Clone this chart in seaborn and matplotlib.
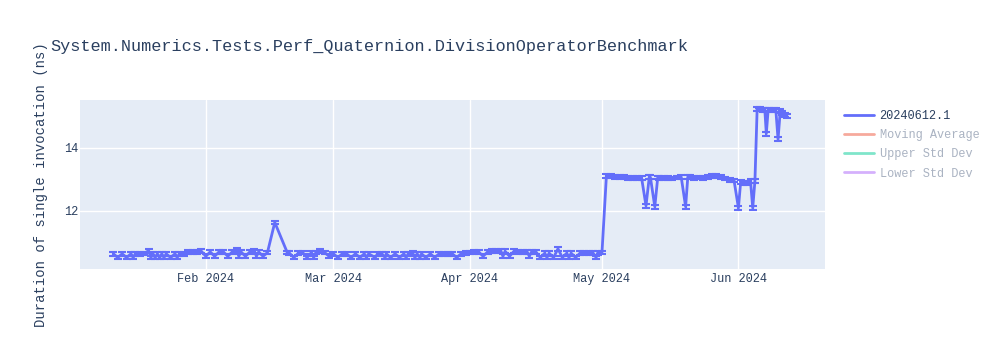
import matplotlib
matplotlib.use("Agg")
import matplotlib.pyplot as plt
from matplotlib.lines import Line2D
import seaborn as sns
import pandas as pd

title = "System.Numerics.Tests.Perf_Quaternion.DivisionOperatorBenchmark"
y_label = "Duration of single invocation (ns)"
series_name = "20240612.1"
hidden_series = ["Moving Average", "Upper Std Dev", "Lower Std Dev"]

dates = [
    "2024-01-11", "2024-01-12", "2024-01-13", "2024-01-14", "2024-01-15", "2024-01-15 12:00",
    "2024-01-16", "2024-01-17", "2024-01-18", "2024-01-19", "2024-01-19 12:00", "2024-01-20",
    "2024-01-20 12:00", "2024-01-21", "2024-01-21 12:00", "2024-01-22", "2024-01-22 12:00",
    "2024-01-23", "2024-01-24", "2024-01-25", "2024-01-25 12:00", "2024-01-26", "2024-01-27",
    "2024-01-28", "2024-01-29", "2024-01-30", "2024-01-31",
    "2024-02-01", "2024-02-02", "2024-02-03", "2024-02-04", "2024-02-05", "2024-02-06",
    "2024-02-07", "2024-02-08", "2024-02-08 12:00", "2024-02-09", "2024-02-10", "2024-02-11",
    "2024-02-12", "2024-02-12 12:00", "2024-02-13", "2024-02-14", "2024-02-15",
    "2024-02-16 16:00", "2024-02-19 12:00", "2024-02-20", "2024-02-21", "2024-02-22",
    "2024-02-23", "2024-02-24", "2024-02-25", "2024-02-25 12:00", "2024-02-26", "2024-02-27",
    "2024-02-28", "2024-02-29",
    "2024-03-01", "2024-03-02", "2024-03-03", "2024-03-04", "2024-03-05", "2024-03-06",
    "2024-03-07", "2024-03-08", "2024-03-08 12:00", "2024-03-09", "2024-03-10 12:00",
    "2024-03-11", "2024-03-12", "2024-03-12 18:00", "2024-03-13", "2024-03-14", "2024-03-15",
    "2024-03-16", "2024-03-17", "2024-03-17 12:00", "2024-03-18", "2024-03-19",
    "2024-03-19 12:00", "2024-03-20", "2024-03-20 16:00", "2024-03-21", "2024-03-22",
    "2024-03-23", "2024-03-24", "2024-03-25", "2024-03-26", "2024-03-27", "2024-03-28",
    "2024-03-29", "2024-03-30", "2024-03-31",
    "2024-04-01", "2024-04-02", "2024-04-03", "2024-04-04", "2024-04-05", "2024-04-06",
    "2024-04-07", "2024-04-08", "2024-04-08 12:00", "2024-04-09", "2024-04-10", "2024-04-11",
    "2024-04-12", "2024-04-13", "2024-04-14", "2024-04-14 12:00", "2024-04-15", "2024-04-16",
    "2024-04-17", "2024-04-18", "2024-04-18 12:00", "2024-04-19", "2024-04-20", "2024-04-21",
    "2024-04-22", "2024-04-23", "2024-04-23 12:00", "2024-04-24", "2024-04-25", "2024-04-26",
    "2024-04-27", "2024-04-28", "2024-04-29", "2024-04-29 16:00", "2024-04-30", "2024-05-01",
    "2024-05-02", "2024-05-03", "2024-05-04", "2024-05-05", "2024-05-06", "2024-05-07",
    "2024-05-08", "2024-05-09", "2024-05-10", "2024-05-11", "2024-05-11 18:00", "2024-05-12",
    "2024-05-13", "2024-05-13 16:00", "2024-05-14", "2024-05-15", "2024-05-16", "2024-05-17",
    "2024-05-18", "2024-05-19", "2024-05-20", "2024-05-20 12:00", "2024-05-21", "2024-05-22",
    "2024-05-23", "2024-05-24", "2024-05-25", "2024-05-26", "2024-05-27", "2024-05-28",
    "2024-05-29", "2024-05-30", "2024-05-31",
    "2024-06-01", "2024-06-01 12:00", "2024-06-02", "2024-06-03", "2024-06-03 18:00",
    "2024-06-04 06:00", "2024-06-04 18:00", "2024-06-05 06:00", "2024-06-05 18:00",
    "2024-06-06", "2024-06-06 12:00", "2024-06-07", "2024-06-07 08:00", "2024-06-07 18:00",
    "2024-06-08", "2024-06-09", "2024-06-09 12:00", "2024-06-10", "2024-06-10 12:00",
    "2024-06-11", "2024-06-11 12:00", "2024-06-12",
]

values = [
    10.62, 10.50, 10.62, 10.50, 10.62, 10.50,
    10.62, 10.62, 10.63, 10.72, 10.50, 10.62,
    10.50, 10.62, 10.50, 10.62, 10.50,
    10.62, 10.50, 10.62, 10.50, 10.62, 10.62,
    10.68, 10.68, 10.68, 10.70,
    10.54, 10.68, 10.54, 10.68, 10.68, 10.54,
    10.68, 10.74, 10.54, 10.68, 10.54, 10.68,
    10.72, 10.54, 10.68, 10.54, 10.66,
    11.62, 10.66, 10.64, 10.50, 10.64,
    10.66, 10.50, 10.66, 10.50, 10.66, 10.70,
    10.66, 10.54,
    10.62, 10.50, 10.62, 10.62, 10.50, 10.62,
    10.50, 10.62, 10.50, 10.62, 10.50,
    10.62, 10.62, 10.50, 10.62, 10.50, 10.62,
    10.50, 10.62, 10.50, 10.62, 10.64,
    10.50, 10.62, 10.50, 10.62, 10.50,
    10.62, 10.50, 10.62, 10.62, 10.62, 10.62,
    10.50, 10.62, 10.64,
    10.66, 10.68, 10.68, 10.54, 10.68, 10.70,
    10.70, 10.72, 10.54, 10.70, 10.54, 10.70,
    10.68, 10.68, 10.68, 10.54, 10.68, 10.68,
    10.50, 10.64, 10.50, 10.64, 10.50, 10.78,
    10.50, 10.64, 10.50, 10.64, 10.50, 10.64,
    10.64, 10.64, 10.64, 10.50, 10.64, 10.66,
    13.09, 13.09, 13.08, 13.08, 13.08, 13.03,
    13.03, 13.03, 13.04, 12.15, 13.07, 13.06,
    12.12, 13.05, 13.03, 13.03, 13.04, 13.02,
    13.05, 13.07, 12.12, 13.07, 13.06, 13.03,
    13.05, 13.03, 13.07, 13.09, 13.09, 13.07,
    13.02, 12.98, 12.96,
    12.08, 12.90, 12.88, 12.88, 12.93,
    12.08, 12.95, 15.23, 15.22,
    15.23, 15.21, 15.20, 14.45, 15.20,
    15.22, 15.21, 15.20, 14.27, 15.18,
    15.12, 15.05, 15.02,
]

err_ns = 0.06

month_ticks = ["2024-02-01", "2024-03-01", "2024-04-01", "2024-05-01", "2024-06-01"]
month_labels = ["Feb 2024", "Mar 2024", "Apr 2024", "May 2024", "Jun 2024"]
y_ticks = [12, 14]

df = pd.DataFrame({"date": pd.to_datetime(dates, format="mixed"), "value": values})

sns.set_theme(style="darkgrid")
plt.rcParams["font.family"] = ["Liberation Mono", "DejaVu Sans Mono"]

fig = plt.figure(figsize=(10, 3.5), dpi=100)
ax = fig.add_axes([0.08, 0.231, 0.745, 0.483])
ax.set_facecolor("#E5ECF6")
fig.patch.set_facecolor("white")

line_color = "#636efa"
sns.lineplot(data=df, x="date", y="value", ax=ax, color=line_color, linewidth=2,
             estimator=None, sort=False, legend=False)
ax.errorbar(df["date"], df["value"], yerr=err_ns, fmt="none", ecolor=line_color,
            elinewidth=1.5, capsize=3, capthick=1.5)

ax.set_xlim(pd.Timestamp("2024-01-03 10:00"), pd.Timestamp("2024-06-20 16:00"))
ax.set_ylim(10.13, 15.52)
ax.set_xticks(pd.to_datetime(month_ticks))
ax.set_xticklabels(month_labels)
ax.set_yticks(y_ticks)
ax.set_yticklabels([str(t) for t in y_ticks])
ax.grid(True, color="white", linewidth=1)
for s in ax.spines.values():
    s.set_visible(False)
ax.tick_params(axis="both", labelsize=8.6, colors="#2a3f5f", length=0)
ax.tick_params(axis="x", pad=3)
ax.tick_params(axis="y", pad=1.5)
ax.set_xlabel("")
ax.set_ylabel(y_label, fontsize=10, color="#2a3f5f")
ax.yaxis.set_label_coords(-0.043, 0.5)

fig.text(0.05, 1 - 46 / 350, title, fontsize=12.2, color="#2a3f5f", va="center", ha="left")

handles = [Line2D([0], [0], color=line_color, lw=2)]
hidden_colors = ["#EF553B", "#00cc96", "#ab63fa"]
for c in hidden_colors:
    handles.append(Line2D([0], [0], color=c, lw=2, alpha=0.5))
leg = ax.legend(handles, [series_name] + hidden_series, loc="upper left",
                bbox_to_anchor=(1.014, 0.99), frameon=False, fontsize=8.6,
                handlelength=2.5, handletextpad=0.5, labelspacing=0.6, borderaxespad=0.3)
for i, t in enumerate(leg.get_texts()):
    t.set_color("#2a3f5f" if i == 0 else "#aab3c2")

fig.savefig("out.png", dpi=100)
